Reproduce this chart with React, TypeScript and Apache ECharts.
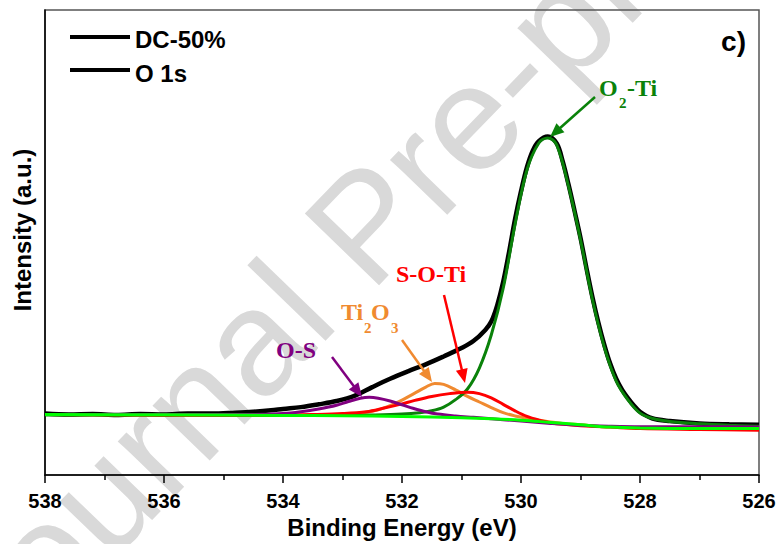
import React, { useEffect, useRef } from "react";
import * as echarts from "echarts";

// O 1s spectrum of DC-50%: measured envelope, fitted components and background.
// Pairs are [binding energy (eV), intensity (a.u.)].
const envelope: number[][] = [
  [538, 13.2], [537.6, 13.0], [537.2, 13.1], [536.8, 12.9], [536.4, 13.1], [536, 13.0],
  [535.6, 13.2], [535.2, 13.2], [534.8, 13.4], [534.5, 13.6], [534.2, 13.9], [534, 14.2],
  [533.7, 14.6], [533.4, 15.2], [533.1, 15.9], [532.8, 17.0], [532.5, 18.9], [532.2, 20.7],
  [531.9, 22.3], [531.6, 23.8], [531.3, 25.5], [531, 27.3], [530.8, 28.8], [530.6, 31.2],
  [530.5, 33.0], [530.4, 36.5], [530.3, 41.5], [530.2, 48.0], [530.1, 55.0], [530, 61.0],
  [529.9, 66.2], [529.8, 69.8], [529.7, 71.8], [529.55, 72.8], [529.4, 71.3], [529.3, 67.5],
  [529.2, 62.4], [529.1, 56.8], [529, 51.0], [528.9, 44.5], [528.8, 38.3], [528.7, 32.8],
  [528.6, 28.0], [528.5, 23.9], [528.4, 20.7], [528.3, 18.3], [528.2, 16.5], [528.1, 14.9],
  [528, 13.6], [527.8, 12.2], [527.5, 11.6], [527, 11.1], [526.5, 10.9], [526, 10.8],
];

const o2Ti: number[][] = [
  [538, 12.9], [536, 12.9], [534, 12.8], [533, 12.8], [532.5, 12.9], [532, 13.1],
  [531.7, 13.4], [531.5, 13.8], [531.3, 14.6], [531.1, 16.2], [530.9, 18.5], [530.7, 23.0],
  [530.5, 30.1], [530.3, 40.1], [530.1, 53.9], [529.9, 65.6], [529.7, 71.4], [529.55, 72.5],
  [529.4, 71.0], [529.2, 62.0], [529, 50.6], [528.8, 37.8], [528.6, 27.5], [528.4, 20.2],
  [528.2, 16.1], [528, 13.3], [527.8, 12.2], [527.5, 11.5], [527, 11.0], [526.5, 10.7],
  [526, 10.5],
];

const sOTi: number[][] = [
  [538, 13.0], [534, 12.9], [533.5, 13.0], [533, 13.2], [532.6, 13.6], [532.3, 14.4],
  [532, 15.3], [531.8, 16.0], [531.5, 16.9], [531.2, 17.5], [530.9, 17.8], [530.7, 17.5],
  [530.5, 16.6], [530.3, 15.2], [530.1, 13.8], [529.9, 12.6], [529.7, 11.8], [529.5, 11.2],
  [529.2, 10.8], [529, 10.6], [528.5, 10.3], [528, 10.0], [527, 9.8], [526, 9.6],
];

const ti2O3: number[][] = [
  [538, 13.0], [534, 12.8], [533.2, 12.9], [533, 13.0], [532.8, 13.2], [532.6, 13.5],
  [532.4, 14.0], [532.2, 14.9], [532, 16.1], [531.8, 17.5], [531.6, 18.9], [531.45, 19.7],
  [531.3, 19.5], [531.1, 18.3], [530.9, 16.9], [530.7, 15.7], [530.5, 14.5], [530.3, 13.4],
  [530.1, 12.7], [529.9, 12.2], [529.6, 11.6], [529.3, 11.1], [529, 10.8], [528.5, 10.3],
  [528, 10.1], [527, 10.0], [526, 10.0],
];

const oS: number[][] = [
  [538, 13.0], [534.5, 13.0], [534, 13.2], [533.7, 13.6], [533.4, 14.2], [533.1, 15.0],
  [532.9, 15.8], [532.7, 16.5], [532.55, 16.7], [532.4, 16.5], [532.2, 15.9], [532, 15.1],
  [531.8, 14.3], [531.6, 13.6], [531.4, 13.1], [531.1, 12.7], [530.8, 12.4], [530.5, 12.1],
  [530, 11.6], [529.5, 11.1], [529, 10.7], [528.5, 10.5], [528, 10.4], [527, 10.4],
  [526, 10.3],
];

const background: number[][] = [
  [538, 13.0], [536, 12.95], [534, 12.8], [533, 12.75], [532, 12.6], [531, 12.3],
  [530.5, 12.1], [530, 11.8], [529.5, 11.3], [529, 10.8], [528.5, 10.3], [528, 10.1],
  [527, 10.0], [526, 10.0],
];

const xTicks = { min: 526, max: 538, step: 2 };
const legendNames = ["DC-50%", "O 1s"];

const SANS = "Arial, 'Liberation Sans', Helvetica, sans-serif";
const SERIF = "'Times New Roman', 'Liberation Serif', serif";

function arrow(x1: number, y1: number, x2: number, y2: number, color: string) {
  const head = 14;
  const hw = 6;
  const dx = x2 - x1;
  const dy = y2 - y1;
  const len = Math.hypot(dx, dy);
  const ux = dx / len;
  const uy = dy / len;
  const bx = x2 - ux * head;
  const by = y2 - uy * head;
  const px = -uy;
  const py = ux;
  return [
    { type: "line", z: 50, shape: { x1, y1, x2: bx + ux * 2, y2: by + uy * 2 }, style: { stroke: color, lineWidth: 2.5 } },
    {
      type: "polygon",
      z: 50,
      shape: { points: [[x2, y2], [bx + px * hw, by + py * hw], [bx - px * hw, by - py * hw]] },
      style: { fill: color },
    },
  ];
}

function label(text: string, x: number, y: number, color: string, size: number) {
  return {
    type: "text",
    z: 50,
    x,
    y,
    style: { text, fill: color, font: `bold ${size}px ${SERIF}`, textAlign: "left", textVerticalAlign: "middle" },
  };
}

function lineSeries(name: string, data: number[][], color: string, width: number) {
  return {
    name,
    type: "line",
    data,
    smooth: 0.35,
    showSymbol: false,
    symbol: "none",
    lineStyle: { color, width },
    itemStyle: { color },
    silent: true,
  };
}

export default function App() {
  const ref = useRef<HTMLDivElement>(null);

  useEffect(() => {
    if (!ref.current) return;
    const chart = echarts.init(ref.current, null, { renderer: "svg" });
    const green = "#0a820a";
    const orange = "#f08a30";
    const red = "#ff0000";
    const purple = "#800080";

    chart.setOption({
      animation: false,
      backgroundColor: "#ffffff",
      grid: {
        left: 45,
        right: 22,
        top: 10,
        bottom: 69,
        outerBoundsMode: "none",
        containLabel: false,
        show: true,
        borderColor: "#555",
        borderWidth: 1.5,
      },
      xAxis: {
        type: "value",
        min: xTicks.min,
        max: xTicks.max,
        interval: xTicks.step,
        inverse: true,
        axisLine: { lineStyle: { color: "#000", width: 1.5 } },
        axisTick: { length: 8, lineStyle: { color: "#000", width: 1.5 } },
        minorTick: { show: true, splitNumber: 2, length: 5, lineStyle: { color: "#000", width: 1.5 } },
        splitLine: { show: false },
        axisLabel: { fontFamily: SANS, fontWeight: "bold", fontSize: 20, color: "#000", margin: 16 },
        name: "Binding Energy (eV)",
        nameLocation: "middle",
        nameGap: 36,
        nameTextStyle: { fontFamily: SANS, fontWeight: "bold", fontSize: 24, color: "#000" },
      },
      yAxis: {
        type: "value",
        min: 0,
        max: 100,
        axisLine: { show: true, lineStyle: { color: "#000", width: 1.5 } },
        axisTick: { show: false },
        axisLabel: { show: false },
        splitLine: { show: false },
      },
      series: [
        lineSeries("DC-50%", envelope, "#000000", 4.5),
        lineSeries("Ti2O3", ti2O3, orange, 3),
        lineSeries("O2-Ti", o2Ti, green, 3),
        lineSeries("S-O-Ti", sOTi, red, 3),
        lineSeries("O-S", oS, purple, 3),
        lineSeries("Background", background, "#00ff00", 3),
      ],
      graphic: [
        {
          type: "text",
          z: -10,
          x: 365,
          y: 225,
          rotation: (46 * Math.PI) / 180,
          style: {
            text: "Journal Pre-proof",
            fill: "#d9d9d9",
            font: `150px ${SANS}`,
            textAlign: "center",
            textVerticalAlign: "middle",
          },
        },
        // legend
        { type: "line", z: 50, shape: { x1: 70, y1: 37, x2: 130, y2: 37 }, style: { stroke: "#000", lineWidth: 4 } },
        { type: "text", z: 50, x: 135, y: 39, style: { text: legendNames[0], fill: "#000", font: `bold 24px ${SANS}`, textVerticalAlign: "middle" } },
        { type: "line", z: 50, shape: { x1: 70, y1: 70, x2: 130, y2: 70 }, style: { stroke: "#000", lineWidth: 4 } },
        { type: "text", z: 50, x: 135, y: 73, style: { text: legendNames[1], fill: "#000", font: `bold 24px ${SANS}`, textVerticalAlign: "middle" } },
        // panel letter
        { type: "text", z: 50, x: 746, y: 41, style: { text: "c)", fill: "#000", font: `bold 28px ${SANS}`, textAlign: "right", textVerticalAlign: "middle" } },
        // y axis title
        {
          type: "text",
          z: 50,
          x: 22,
          y: 230,
          rotation: Math.PI / 2,
          style: { text: "Intensity (a.u.)", fill: "#000", font: `bold 24px ${SANS}`, textAlign: "center", textVerticalAlign: "middle" },
        },
        // component labels
        label("O", 599, 88, green, 24),
        label("2", 619, 103, green, 15),
        label("-Ti", 627, 88, green, 24),
        ...arrow(595, 97, 550, 137, green),
        label("S-O-Ti", 396, 274, red, 24),
        ...arrow(444, 295, 465, 383, red),
        label("Ti", 341, 312, orange, 24),
        label("2", 364, 328, orange, 15),
        label("O", 371, 312, orange, 24),
        label("3", 391, 328, orange, 15),
        ...arrow(402, 340, 432, 382, orange),
        label("O-S", 276, 350, purple, 24),
        ...arrow(332, 357, 362, 397, purple),
      ],
    });

    return () => chart.dispose();
  }, []);

  return (
    <div
      ref={ref}
      style={{ position: "fixed", left: 0, top: 0, width: 781, height: 544, background: "#fff" }}
    />
  );
}
